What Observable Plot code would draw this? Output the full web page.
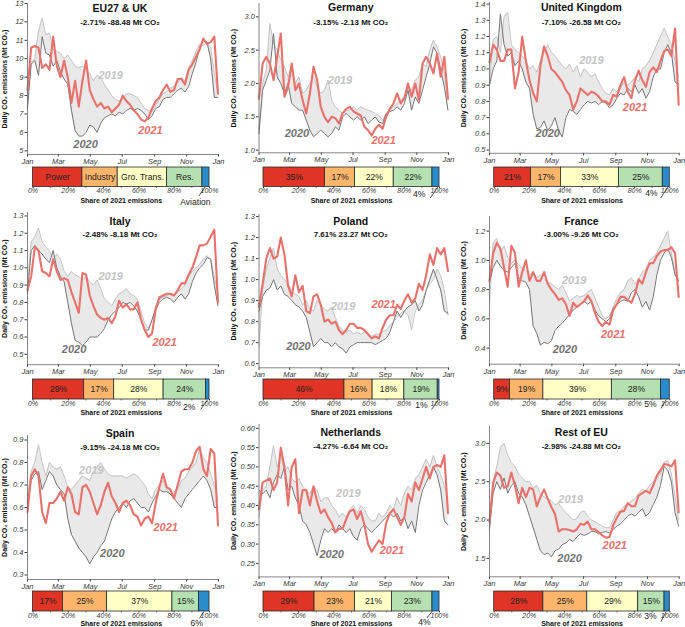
<!DOCTYPE html>
<html><head><meta charset="utf-8">
<script src="https://cdn.jsdelivr.net/npm/d3@7"></script>
<script src="https://cdn.jsdelivr.net/npm/@observablehq/plot@0.6"></script>
<style>
body{margin:0;background:#fff;}
#chart{position:relative;width:685px;height:627px;overflow:hidden;font-family:"Liberation Sans",Arial,sans-serif;background:#fff;}
#chart svg{position:absolute;overflow:visible;}
#chart [aria-label*="tick label"] text, #chart g[aria-label="x-axis"] text, #chart g[aria-label="y-axis"] text{font-style:italic;}
</style></head><body><div id="chart"></div>
<script>
// ---------- shared categories / ticks ----------
const days = [0,7,14,21,28,35,42,49,56,63,70,77,84,91,98,105,112,119,126,133,140,147,154,161,168,175,182,189,196,203,210,217,224,231,238,245,252,259,266,273,280,287,294,301,308,315,322,329,336,343,350,357,364];
const monthTicks = [0,59,120,181,243,304,365];
const monthLabels = ["Jan","Mar","May","Jul","Sep","Nov","Jan"];
const sectors = ["Power","Industry","Gro. Trans.","Res.","Aviation"];
const shareTicks = [0,20,40,60,80,100];
const shareMinorTicks = [10,30,50,70,90];

// ---------- EU27 & UK ----------
const eu2019 = [7.6,9.8,10.0,11.5,12.2,11.3,11.4,10.5,10.4,10.3, 10.0,10.2,9.9,9.6,9.5,9.6,9.4,9.2,8.8,9.1, 9.0,8.6,8.3,8.0,7.8,7.7,7.8,8.1,8.1,8.0, 7.9,7.6,7.3,7.2,7.1,7.5,7.8,8.1,8.2,8.4, 8.5,8.7,9.0,8.8,9.5,9.9,10.4,10.8,10.7,10.9, 10.6,9.2,8.1];
const eu2020 = [7.3,9.7,9.9,9.1,11.2,10.3,10.2,9.6,9.9,9.3, 8.9,8.6,7.2,6.1,5.8,5.8,6.0,6.4,6.3,6.0, 6.5,6.8,6.9,7.0,6.9,7.1,7.0,7.2,7.3,7.2, 7.3,7.2,7.0,6.7,6.9,7.3,7.4,7.8,7.9,7.9, 8.1,8.3,8.4,8.2,8.5,9.2,9.8,10.6,11.0,10.9, 10.0,7.9,7.9];
const eu2021 = [8.3,10.6,10.7,10.6,9.5,9.7,9.4,11.2,9.6,9.0, 9.9,9.0,7.6,8.8,7.4,8.8,9.9,8.3,7.8,7.4, 7.6,7.3,7.4,7.1,7.3,7.5,8.0,7.7,7.5,7.2, 7.0,6.7,6.6,6.8,7.3,7.7,7.9,8.3,8.6,8.2, 8.3,8.9,8.9,8.6,9.4,9.7,10.1,10.5,11.1,10.8, 10.9,11.2,8.1];
const euTicks = [5,6,7,8,9,10,11,12,13];
const euShares = [28,20,28,20,4];

// ---------- Germany ----------
const de2019 = [1.3,2.0,2.2,2.9,2.6,2.5,2.35,2.25,2.1,2.2, 2.0,2.1,1.85,1.9,2.0,2.1,1.95,1.85,1.9,2.05, 1.75,1.65,1.6,1.55,1.6,1.6,1.65,1.6,1.65,1.62, 1.6,1.58,1.55,1.52,1.45,1.55,1.6,1.65,1.7,1.75, 1.8,1.95,1.9,2.05,2.1,2.3,2.25,2.5,2.65,2.55, 2.4,2.15,1.75];
const de2020 = [1.25,1.9,2.05,2.2,2.75,2.1,2.0,1.85,2.0,1.7, 1.65,1.6,1.6,1.45,1.3,1.2,1.25,1.3,1.25,1.2, 1.25,1.35,1.3,1.5,1.55,1.5,1.45,1.5,1.45,1.5, 1.4,1.45,1.5,1.42,1.4,1.55,1.58,1.6,1.65,1.6, 1.7,1.9,1.6,1.8,1.7,1.9,2.1,2.3,2.55,2.45, 2.2,1.95,1.6];
const de2021 = [1.77,2.30,2.40,2.30,2.05,2.40,2.75,1.80,1.95,2.30, 1.90,2.00,1.75,1.55,1.85,2.25,2.05,1.65,1.50,1.42, 1.50,1.48,1.40,1.55,1.62,1.65,1.58,1.55,1.52,1.35, 1.30,1.22,1.32,1.38,1.32,1.50,1.62,1.70,1.85,1.70, 1.78,2.00,1.80,2.00,1.75,2.30,2.40,2.30,2.15,2.45, 2.10,2.40,1.77];
const deTicks = [1.0,1.5,2.0,2.5,3.0];
const deShares = [35,17,22,22,4];

// ---------- United Kingdom ----------
const uk2019 = [0.92,1.18,1.2,1.1,1.32,1.35,1.15,1.12,1.1,1.08, 1.05,1.0,1.02,0.98,1.05,1.1,1.15,1.1,1.08,1.05, 1.02,1.0,1.03,0.98,1.02,0.95,1.0,0.98,0.95,0.97, 0.92,0.88,0.85,0.84,0.88,0.86,0.88,0.92,0.9,0.92, 0.95,0.92,1.0,1.02,1.05,1.1,1.15,1.2,1.25,1.2, 1.15,1.05,0.95];
const uk2020 = [0.9,1.0,1.05,1.34,1.15,1.08,1.1,1.02,1.05,1.0, 0.92,0.88,0.72,0.63,0.64,0.68,0.62,0.65,0.7,0.62, 0.58,0.7,0.75,0.74,0.72,0.75,0.78,0.8,0.79,0.8, 0.78,0.8,0.79,0.76,0.78,0.82,0.85,0.84,0.88,0.86, 0.9,0.85,0.88,0.82,0.86,0.95,1.0,1.0,1.1,1.15, 1.1,0.92,0.9];
const uk2021 = [1.04,1.15,1.12,1.05,1.05,1.12,1.12,0.88,0.98,1.20, 1.05,0.93,0.85,0.80,1.02,1.14,1.08,1.00,0.98,0.95, 0.92,0.87,0.84,0.75,0.80,0.88,0.86,0.84,0.86,0.85, 0.83,0.80,0.80,0.78,0.84,0.83,0.90,0.95,0.86,0.82, 0.93,0.99,0.93,0.89,0.98,1.01,0.98,1.05,1.11,1.12, 1.08,1.25,0.78];
const ukTicks = [0.5,0.6,0.7,0.8,0.9,1.0,1.1,1.2,1.3,1.4];
const ukShares = [21,17,33,25,4];

// ---------- Italy ----------
const it2019 = [0.9,1.15,1.18,1.23,1.15,1.12,1.1,1.05,1.08,1.05, 0.98,0.95,0.98,0.96,0.95,0.93,0.95,0.92,0.9,0.93, 0.88,0.82,0.8,0.78,0.82,0.85,0.86,0.88,0.85,0.84, 0.82,0.75,0.68,0.65,0.7,0.78,0.82,0.83,0.84,0.85, 0.84,0.86,0.88,0.9,0.95,0.98,1.0,1.02,1.05,1.07, 1.05,0.95,0.85];
const it2020 = [0.85,1.1,1.13,1.1,1.08,1.05,1.03,1.1,1.0,0.95, 0.92,0.8,0.68,0.58,0.57,0.55,0.57,0.6,0.6,0.6, 0.62,0.65,0.7,0.73,0.75,0.77,0.8,0.79,0.8,0.78, 0.75,0.7,0.64,0.64,0.7,0.76,0.8,0.82,0.83,0.82, 0.8,0.83,0.85,0.82,0.85,0.92,0.97,1.0,1.02,1.06, 1.05,0.9,0.78];
const it2021 = [0.87,0.95,1.12,1.10,0.98,0.97,0.95,1.05,0.98,0.93, 0.94,0.93,0.86,0.80,0.74,0.97,0.96,0.84,0.78,0.73, 0.71,0.70,0.71,0.68,0.72,0.81,0.77,0.79,0.76,0.76, 0.80,0.70,0.64,0.60,0.62,0.76,0.83,0.84,0.85,0.85, 0.84,0.87,0.91,0.91,0.96,1.00,1.06,1.13,1.13,1.14, 1.18,1.22,0.80];
const itTicks = [0.5,0.6,0.7,0.8,0.9,1.0,1.1,1.2,1.3];
const itShares = [29,17,28,24,2];

// ---------- Poland ----------
const pl2019 = [0.68,0.95,1.05,1.1,1.15,1.05,1.02,1.0,0.98,0.95, 0.93,0.92,0.88,0.9,0.86,0.85,0.9,0.88,0.86,0.85, 0.87,0.82,0.78,0.76,0.75,0.76,0.74,0.75,0.74,0.75, 0.74,0.73,0.74,0.74,0.75,0.76,0.78,0.8,0.82,0.84, 0.85,0.83,0.76,0.85,0.88,0.9,0.95,0.98,1.0,1.05, 1.02,0.95,0.83];
const pl2020 = [0.85,0.92,0.95,0.96,1.0,0.95,0.97,0.93,0.92,0.9, 0.88,0.87,0.85,0.82,0.75,0.68,0.7,0.72,0.7,0.7, 0.68,0.7,0.68,0.67,0.65,0.68,0.69,0.7,0.7,0.7, 0.7,0.7,0.69,0.7,0.71,0.72,0.75,0.8,0.85,0.82, 0.85,0.87,0.88,0.9,0.85,0.88,0.95,1.0,1.05,1.0, 0.95,0.85,0.84];
const pl2021 = [0.87,0.98,1.10,1.15,1.10,1.11,1.20,1.12,0.97,0.92, 1.02,0.94,0.97,0.85,0.84,0.92,0.93,0.88,0.80,0.81, 0.79,0.80,0.76,0.74,0.76,0.79,0.79,0.77,0.77,0.76, 0.74,0.72,0.73,0.72,0.77,0.81,0.83,0.83,0.88,0.86, 0.90,0.93,0.89,0.91,0.98,0.95,1.02,1.12,1.07,1.15, 1.12,1.15,1.04];
const plTicks = [0.6,0.7,0.8,0.9,1.0,1.1,1.2,1.3];
const plShares = [46,16,18,19,1];

// ---------- France ----------
const fr2019 = [0.7,1.12,1.15,1.05,1.1,1.02,0.98,1.0,0.97,0.95, 0.93,0.9,0.92,0.88,0.9,0.87,0.85,0.84,0.82,0.8, 0.83,0.78,0.72,0.74,0.76,0.75,0.76,0.78,0.8,0.74, 0.68,0.62,0.6,0.62,0.68,0.74,0.78,0.8,0.86,0.88, 0.84,0.87,0.92,0.94,1.0,1.02,1.05,1.1,1.15,1.2, 1.05,0.92,0.87];
const fr2020 = [0.85,0.95,1.0,0.96,0.93,0.92,0.95,0.98,0.88,0.86, 0.85,0.8,0.55,0.5,0.42,0.44,0.43,0.45,0.52,0.55, 0.57,0.6,0.63,0.66,0.68,0.7,0.72,0.7,0.72,0.66, 0.62,0.6,0.58,0.6,0.67,0.7,0.72,0.73,0.72,0.78, 0.8,0.75,0.68,0.72,0.66,0.75,0.9,1.0,1.05,1.08, 1.02,0.9,0.86];
const fr2021 = [0.86,1.05,1.12,1.08,0.95,0.82,1.10,1.05,0.82,0.92, 1.00,0.86,0.92,0.86,0.86,0.92,0.84,0.80,0.77,0.73, 0.74,0.70,0.62,0.71,0.68,0.70,0.72,0.76,0.72,0.64, 0.58,0.55,0.58,0.56,0.66,0.70,0.75,0.75,0.73,0.71, 0.77,0.87,0.84,0.92,0.98,0.98,1.03,1.06,1.07,1.07, 1.09,1.05,0.75];
const frTicks = [0.4,0.6,0.8,1.0,1.2];
const frShares = [9,19,39,28,5];

// ---------- Spain ----------
const es2019 = [0.65,0.76,0.8,0.88,0.8,0.74,0.8,0.78,0.77,0.78, 0.74,0.69,0.68,0.7,0.72,0.74,0.73,0.72,0.76,0.78, 0.8,0.77,0.75,0.74,0.74,0.74,0.74,0.73,0.74,0.75, 0.74,0.72,0.7,0.66,0.64,0.68,0.7,0.72,0.68,0.66, 0.67,0.68,0.72,0.73,0.76,0.78,0.8,0.86,0.82,0.8, 0.75,0.7,0.63];
const es2020 = [0.62,0.72,0.75,0.76,0.68,0.72,0.76,0.74,0.7,0.68, 0.66,0.55,0.48,0.45,0.42,0.4,0.38,0.35,0.38,0.4, 0.43,0.45,0.5,0.55,0.58,0.6,0.62,0.6,0.63,0.64, 0.62,0.6,0.6,0.58,0.62,0.65,0.68,0.67,0.67,0.66, 0.64,0.62,0.6,0.64,0.66,0.68,0.7,0.72,0.74,0.72, 0.68,0.6,0.6];
const es2021 = [0.58,0.74,0.77,0.74,0.58,0.53,0.62,0.62,0.64,0.67, 0.63,0.69,0.66,0.58,0.57,0.69,0.70,0.67,0.62,0.57, 0.61,0.67,0.71,0.65,0.62,0.58,0.62,0.63,0.61,0.57, 0.56,0.52,0.55,0.56,0.53,0.62,0.69,0.75,0.69,0.68, 0.64,0.70,0.76,0.77,0.77,0.80,0.85,0.87,0.77,0.74, 0.86,0.84,0.52];
const esTicks = [0.3,0.4,0.5,0.6,0.7,0.8,0.9];
const esShares = [17,25,37,15,6];

// ---------- Netherlands ----------
const nl2019 = [0.37,0.44,0.45,0.5,0.555,0.5,0.53,0.49,0.5,0.47, 0.46,0.47,0.45,0.44,0.43,0.45,0.44,0.41,0.42,0.42, 0.4,0.39,0.37,0.38,0.37,0.39,0.4,0.38,0.4,0.39, 0.37,0.36,0.36,0.38,0.37,0.38,0.4,0.39,0.42,0.4, 0.43,0.45,0.44,0.47,0.48,0.5,0.52,0.5,0.53,0.5, 0.48,0.45,0.42];
const nl2020 = [0.44,0.43,0.44,0.42,0.46,0.48,0.47,0.5,0.44,0.45, 0.42,0.4,0.36,0.35,0.33,0.3,0.27,0.31,0.34,0.33, 0.34,0.33,0.35,0.34,0.33,0.34,0.32,0.31,0.34,0.35, 0.34,0.33,0.34,0.35,0.36,0.37,0.38,0.37,0.38,0.36, 0.37,0.34,0.36,0.33,0.4,0.44,0.46,0.48,0.5,0.48, 0.44,0.36,0.35];
const nl2021 = [0.39,0.46,0.465,0.47,0.44,0.46,0.55,0.50,0.40,0.50, 0.52,0.38,0.44,0.44,0.40,0.45,0.41,0.38,0.39,0.37, 0.355,0.33,0.34,0.34,0.365,0.385,0.39,0.365,0.385,0.35, 0.30,0.28,0.295,0.31,0.30,0.355,0.38,0.39,0.37,0.35, 0.37,0.43,0.41,0.46,0.44,0.47,0.50,0.47,0.50,0.505, 0.50,0.53,0.38];
const nlTicks = [0.25,0.30,0.35,0.40,0.45,0.50,0.55,0.60];
const nlShares = [29,23,21,23,4];

// ---------- Rest of EU ----------
const re2019 = [1.9,2.5,2.7,2.95,3.0,2.85,2.75,2.7,2.6,2.55, 2.5,2.5,2.42,2.45,2.35,2.3,2.28,2.25,2.2,2.22, 2.15,2.1,2.05,2.0,2.02,2.1,2.12,2.05,2.0,1.98, 1.95,1.92,1.9,1.9,2.0,2.1,2.12,2.18,2.2,2.25, 2.28,2.35,2.4,2.38,2.45,2.5,2.55,2.6,2.75,2.78, 2.6,2.3,2.0];
const re2020 = [1.88,2.35,2.5,2.4,2.55,2.35,2.45,2.5,2.35,2.3, 2.2,2.05,1.9,1.75,1.6,1.55,1.57,1.52,1.6,1.62, 1.68,1.7,1.75,1.72,1.78,1.82,1.8,1.82,1.85,1.85, 1.82,1.84,1.85,1.83,1.88,1.92,1.95,2.0,2.05,2.08, 2.05,2.1,2.15,2.05,2.1,2.2,2.3,2.45,2.7,2.65, 2.5,2.1,1.92];
const re2021 = [1.98,2.48,2.62,2.58,2.42,2.44,2.62,2.45,2.22,2.42, 2.30,2.42,2.40,2.18,2.30,2.40,2.28,2.17,2.08,1.85, 1.88,1.88,1.87,1.85,1.88,1.95,1.94,1.98,1.88,1.88, 1.84,1.80,1.77,1.78,1.93,2.03,2.11,2.12,2.22,2.18, 2.18,2.32,2.35,2.38,2.35,2.45,2.58,2.65,2.73,2.72, 2.70,2.78,2.10];
const reTicks = [1.5,2.0,2.5,3.0];
const reShares = [28,25,29,15,3];

// ---------- styling / layout ----------
const FONT = '"Liberation Sans", Arial, Helvetica, sans-serif';
const C19 = "#c4c4c4", C20 = "#737373", C21 = "#e8716b", CFILL = "#e9e9e9";
const sectorColors = ["#df3426","#fdb56c","#ffffc6","#b5e0b0","#2b8ccb"];
const COL_LEFT = [0, 228, 456], COL_W = [228, 228, 229];
const PLOT_X = [[27, 218], [258.5, 448], [489, 678.7]];
const BAR_X = [[32.5, 209], [263, 439], [493.7, 669.3]];
const BAR_Y = [[167, 186.5], [379, 399], [591, 611]];
const SHARE_TITLE_DY = [13.5, 12.8, 12.3];
const TITLE_Y = [[7.5, 22], [221, 234], [433, 446]];
const YLAB_X = [4, 5, 7];

const panels = [
  {name:"EU27 & UK", sub:"-2.71% -88.48 Mt CO₂", col:0, row:0, s:[eu2019,eu2020,eu2021], yDom:[4.8,13], yPx:[153.7,2.7], ticks:euTicks, fmt:"d",
   lab:[[159,9.07],[111,5.36],[235,6.1]], shares:euShares, named:true, av:{x:92, dy:15, lx1:97.5, lx2:94, ldy:9}},
  {name:"Germany", sub:"-3.15% -2.13 Mt CO₂", col:1, row:0, s:[de2019,de2020,de2021], yDom:[0.96,3.2], yPx:[152.7,3.4], ticks:deTicks, fmt:".1f",
   lab:[[156,2.05],[73,1.25],[240,1.15]], shares:deShares, av:{x:88.5, dy:7, lx1:99, lx2:94.8, ldy:11}},
  {name:"United Kingdom", sub:"-7.10% -26.58 Mt CO₂", col:2, row:0, s:[uk2019,uk2020,uk2021], yDom:[0.48,1.41], yPx:[153.2,2.4], ticks:ukTicks, fmt:".1f",
   lab:[[196,1.05],[112,0.6],[280,0.76]], shares:ukShares, av:{x:89.5, dy:6.7, lx1:99, lx2:94.8, ldy:11}},
  {name:"Italy", sub:"-2.48% -8.18 Mt CO₂", col:0, row:1, s:[it2019,it2020,it2021], yDom:[0.44,1.32], yPx:[364.4,212.2], ticks:itTicks, fmt:".1f",
   lab:[[159,0.95],[89,0.53],[262,0.57]], shares:itShares, av:{x:88.5, dy:7.4, lx1:99, lx2:95, ldy:10}},
  {name:"Poland", sub:"7.61% 23.27 Mt CO₂", col:1, row:1, s:[pl2019,pl2020,pl2021], yDom:[0.58,1.31], yPx:[366.9,213.6], ticks:plTicks, fmt:".1f",
   lab:[[162,0.87],[76,0.68],[240,0.88]], shares:plShares, av:{x:89.8, dy:5.5, lx1:99.5, lx2:95.5, ldy:10}},
  {name:"France", sub:"-3.00% -9.26 Mt CO₂", col:2, row:1, s:[fr2019,fr2020,fr2021], yDom:[0.29,1.3], yPx:[363.8,216.1], ticks:frTicks, fmt:".1f",
   lab:[[163,0.86],[145,0.39],[238,0.49]], shares:frShares, av:{x:89, dy:4.5, lx1:98, lx2:95, ldy:9}},
  {name:"Spain", sub:"-9.15% -24.18 Mt CO₂", col:0, row:2, s:[es2019,es2020,es2021], yDom:[0.28,0.92], yPx:[578.5,434.5], ticks:esTicks, fmt:".1f",
   lab:[[122,0.765],[162,0.395],[264,0.51]], shares:esShares, av:{x:92.8, dy:11.5, lx1:96.8, lx2:94.3, ldy:7}},
  {name:"Netherlands", sub:"-4.27% -6.64 Mt CO₂", col:1, row:2, s:[nl2019,nl2020,nl2021], yDom:[0.215,0.61], yPx:[576.8,424.4], ticks:nlTicks, fmt:".2f",
   lab:[[172,0.43],[140,0.273],[256,0.283]], shares:nlShares, av:{x:91.5, dy:10.5, lx1:95.8, lx2:92.8, ldy:6.5}},
  {name:"Rest of EU", sub:"-2.98% -24.88 Mt CO₂", col:2, row:2, s:[re2019,re2020,re2021], yDom:[1.26,3.22], yPx:[576.7,426.4], ticks:reTicks, fmt:".1f",
   lab:[[156,2.27],[154,1.5],[241,1.67]], shares:reShares, av:{x:89, dy:5, lx1:98, lx2:95, ldy:10}}
];

const root = document.getElementById("chart");

function drawLine(p) {
  const cl = COL_LEFT[p.col], cw = COL_W[p.col];
  const [x0, x1] = PLOT_X[p.col];
  const [pxLo, pxHi] = p.yPx;
  const mT = 8, mB = 14;
  const mL = x0 - cl, mR = cl + cw - x1;
  const height = (pxLo - pxHi) + mT + mB;
  const data = days.map((d, i) => ({day: d, v19: p.s[0][i], v20: p.s[1][i], v21: p.s[2][i]}));
  const yearLabels = ["2019","2020","2021"].map((t, i) => ({t, x: p.lab[i][0], y: p.lab[i][1], c: [C19, C20, C21][i]}));
  const svg = Plot.plot({
    width: cw, height, marginLeft: mL, marginRight: mR, marginTop: mT, marginBottom: mB,
    style: {fontFamily: FONT, fontSize: "7.5px", color: "#3a3a3a", background: "none", overflow: "visible"},
    x: {domain: [0, 365], ticks: monthTicks, tickFormat: d => monthLabels[monthTicks.indexOf(d)], tickSize: 2.5, tickPadding: 1.5, label: null},
    y: {domain: p.yDom, ticks: p.ticks, tickFormat: d3.format(p.fmt), tickSize: 2.5, tickPadding: 1.5, label: null},
    marks: [
      Plot.areaY(data, {x: "day", y1: "v19", y2: "v20", fill: CFILL}),
      Plot.line(data, {x: "day", y: "v19", stroke: C19, strokeWidth: 1}),
      Plot.line(data, {x: "day", y: "v20", stroke: C20, strokeWidth: 1}),
      Plot.line(data, {x: "day", y: "v21", stroke: C21, strokeWidth: 2.1}),
      Plot.ruleX([0], {stroke: "#666", strokeWidth: 0.8}),
      Plot.ruleY([p.yDom[0]], {stroke: "#666", strokeWidth: 0.8}),
      Plot.text(yearLabels, {x: "x", y: "y", text: "t", fill: "c", fontSize: 11, fontWeight: "bold", fontStyle: "italic"}),
      Plot.text([p.name], {text: d => d, frameAnchor: "top", lineAnchor: "middle", dx: -3, dy: TITLE_Y[p.row][0] - pxHi, fontSize: 10.5, fontWeight: "bold", fill: "#111"}),
      Plot.text([p.sub], {text: d => d, frameAnchor: "top", lineAnchor: "middle", dx: -3, dy: TITLE_Y[p.row][1] - pxHi, fontSize: 8, fontWeight: "bold", fill: "#111"}),
      Plot.text(["Daily CO₂ emissions (Mt CO₂)"], {text: d => d, frameAnchor: "left", rotate: -90, textAnchor: "middle", lineAnchor: "middle", dx: -(mL - YLAB_X[p.col]), fontSize: 7, fontWeight: "bold", fill: "#111"})
    ]
  });
  svg.style.left = cl + "px";
  svg.style.top = (pxHi - mT) + "px";
  root.appendChild(svg);
}

function drawBar(p) {
  const cl = COL_LEFT[p.col], cw = COL_W[p.col];
  const [bx0, bx1] = BAR_X[p.col];
  const [by0, by1] = BAR_Y[p.row];
  const bh = by1 - by0;
  const mT = 2, mB = 26;
  let acc = 0;
  const segs = sectors.map((s, i) => {
    const a = acc; acc += p.shares[i];
    return {sector: s, x1: a, x2: acc, mid: (a + acc) / 2, y1: 0, y2: 1, ym: 0.5,
            label: p.named ? s : p.shares[i] + "%"};
  });
  const av = p.av;
  const avText = p.named ? "Aviation" : p.shares[4] + "%";
  const svg = Plot.plot({
    width: cw, height: bh + mT + mB, marginLeft: bx0 - cl, marginRight: cl + cw - bx1, marginTop: mT, marginBottom: mB,
    style: {fontFamily: FONT, fontSize: "7px", color: "#3a3a3a", background: "none", overflow: "visible"},
    x: {domain: [0, 100], ticks: shareTicks, tickFormat: d => d + "%", tickSize: 1.5, tickPadding: 0, label: null},
    y: {domain: [0, 1], axis: null},
    color: {domain: sectors, range: sectorColors},
    marks: [
      Plot.rect(segs, {x1: "x1", x2: "x2", y1: "y1", y2: "y2", fill: "sector", stroke: "#2a2a2a", strokeWidth: 0.8}),
      Plot.ruleX(shareMinorTicks, {y1: 0, y2: -1.5 / bh, stroke: "#3a3a3a", strokeWidth: 0.7}),
      Plot.text(segs.slice(0, 4), {x: "mid", y: "ym", text: "label", fontSize: 8.6, fill: "#222"}),
      Plot.link([av], {x1: d => d.lx1, y1: 0, x2: d => d.lx2, y2: d => -d.ldy / bh, stroke: "#222", strokeWidth: 0.8}),
      Plot.text([avText], {text: d => d, x: av.x, frameAnchor: "bottom", lineAnchor: "middle", dy: av.dy, fontSize: 8.6, fill: "#222"}),
      Plot.text(["Share of 2021 emissions"], {text: d => d, frameAnchor: "bottom", lineAnchor: "middle", dy: SHARE_TITLE_DY[p.row], fontSize: 7, fontWeight: "bold", fill: "#111"})
    ]
  });
  svg.style.left = cl + "px";
  svg.style.top = (by0 - mT) + "px";
  root.appendChild(svg);
}

panels.forEach(p => { drawLine(p); drawBar(p); });
</script>
</body></html>
